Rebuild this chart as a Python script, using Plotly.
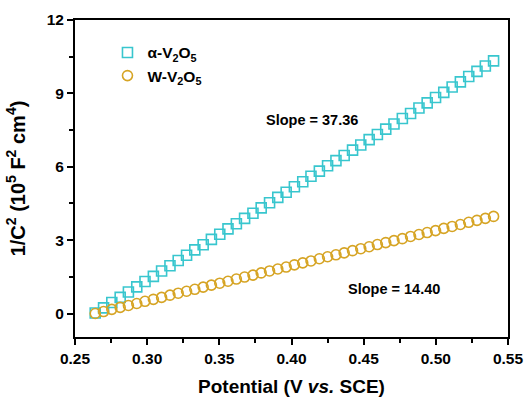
import plotly.graph_objects as go

# Applied potential (V vs. SCE)
potential = [
    0.2640, 0.2698, 0.2755, 0.2813, 0.2870, 0.2928, 0.2985, 0.3043, 0.3100, 0.3158,
    0.3215, 0.3273, 0.3330, 0.3388, 0.3445, 0.3503, 0.3560, 0.3618, 0.3675, 0.3733,
    0.3790, 0.3848, 0.3905, 0.3963, 0.4020, 0.4078, 0.4135, 0.4193, 0.4250, 0.4308,
    0.4365, 0.4423, 0.4480, 0.4538, 0.4595, 0.4653, 0.4710, 0.4768, 0.4825, 0.4883,
    0.4940, 0.4998, 0.5055, 0.5113, 0.5170, 0.5228, 0.5285, 0.5343, 0.5400,
]

# 1/C^2 (10^5 F^-2 cm^4)
alpha_v2o5 = [
    0.02, 0.23, 0.45, 0.66, 0.88, 1.09, 1.31, 1.52, 1.74, 1.95,
    2.17, 2.38, 2.60, 2.81, 3.03, 3.24, 3.46, 3.67, 3.89, 4.10,
    4.32, 4.53, 4.75, 4.96, 5.18, 5.39, 5.61, 5.82, 6.04, 6.25,
    6.46, 6.68, 6.89, 7.11, 7.32, 7.54, 7.75, 7.97, 8.18, 8.40,
    8.61, 8.83, 9.04, 9.26, 9.47, 9.69, 9.90, 10.12, 10.33,
]
w_v2o5 = [
    0.00, 0.08, 0.17, 0.25, 0.33, 0.41, 0.50, 0.58, 0.66, 0.75,
    0.83, 0.91, 0.99, 1.08, 1.16, 1.24, 1.32, 1.41, 1.49, 1.57,
    1.66, 1.74, 1.82, 1.90, 1.99, 2.07, 2.15, 2.24, 2.32, 2.40,
    2.48, 2.57, 2.65, 2.73, 2.82, 2.90, 2.98, 3.06, 3.15, 3.23,
    3.31, 3.39, 3.48, 3.56, 3.64, 3.73, 3.81, 3.89, 3.97,
]

series_names = ["α-V<sub>2</sub>O<sub>5</sub>", "W-V<sub>2</sub>O<sub>5</sub>"]
slope_labels = ["Slope = 37.36", "Slope = 14.40"]
x_ticks = [0.25, 0.30, 0.35, 0.40, 0.45, 0.50, 0.55]
y_ticks = [0, 3, 6, 9, 12]

CYAN = "#38C6CE"
GOLD = "#D6A424"
FONT = "Liberation Sans, Arial, sans-serif"

fig = go.Figure()
fig.add_trace(go.Scatter(
    x=potential, y=alpha_v2o5, mode="markers", name=series_names[0],
    marker=dict(symbol="square-open", size=10, color=CYAN, line=dict(width=1.6, color=CYAN)),
))
fig.add_trace(go.Scatter(
    x=potential, y=w_v2o5, mode="markers", name=series_names[1],
    marker=dict(symbol="circle-open", size=10, color=GOLD, line=dict(width=1.6, color=GOLD)),
))

fig.add_annotation(x=0.414, y=7.91, text="<b>%s</b>" % slope_labels[0], showarrow=False,
                   xref="x", yref="y", font=dict(family=FONT, size=14.5, color="black"))
fig.add_annotation(x=0.4708, y=1.0, text="<b>%s</b>" % slope_labels[1], showarrow=False,
                   xref="x", yref="y", font=dict(family=FONT, size=14.5, color="black"))

axis_common = dict(
    showline=True, linewidth=2, linecolor="black", mirror=True,
    ticks="outside", ticklen=6, tickwidth=2, tickcolor="black",
    showgrid=False, zeroline=False, automargin=False,
    tickfont=dict(family=FONT, size=15.5, color="black", weight="bold"),
    minor=dict(ticks="outside", ticklen=4, tickwidth=2, tickcolor="black", showgrid=False),
)

fig.update_xaxes(
    range=[0.25, 0.55], tickvals=x_ticks, ticktext=["%.2f" % v for v in x_ticks],
    minor_dtick=0.025,
    title=dict(text="<b>Potential (V <i>vs.</i> SCE)</b>", standoff=14,
               font=dict(family=FONT, size=19, color="black")),
    **axis_common,
)
fig.update_yaxes(
    range=[-0.96, 12], tickvals=y_ticks, ticktext=[str(v) for v in y_ticks],
    minor_dtick=1.5,
    title=dict(text="<b>1/C<sup>2</sup> (10<sup>5</sup> F<sup>2</sup> cm<sup>4</sup>)</b>", standoff=16,
               font=dict(family=FONT, size=20, color="black")),
    **axis_common,
)

fig.update_layout(
    width=528, height=401,
    margin=dict(l=75, r=20, t=20, b=64),
    paper_bgcolor="white", plot_bgcolor="white",
    showlegend=True,
    legend=dict(x=0.075, y=0.95, xanchor="left", yanchor="top",
                bgcolor="rgba(0,0,0,0)", tracegroupgap=0,
                font=dict(family=FONT, size=15.5, color="black", weight="bold")),
)

fig.write_html("out.html")
